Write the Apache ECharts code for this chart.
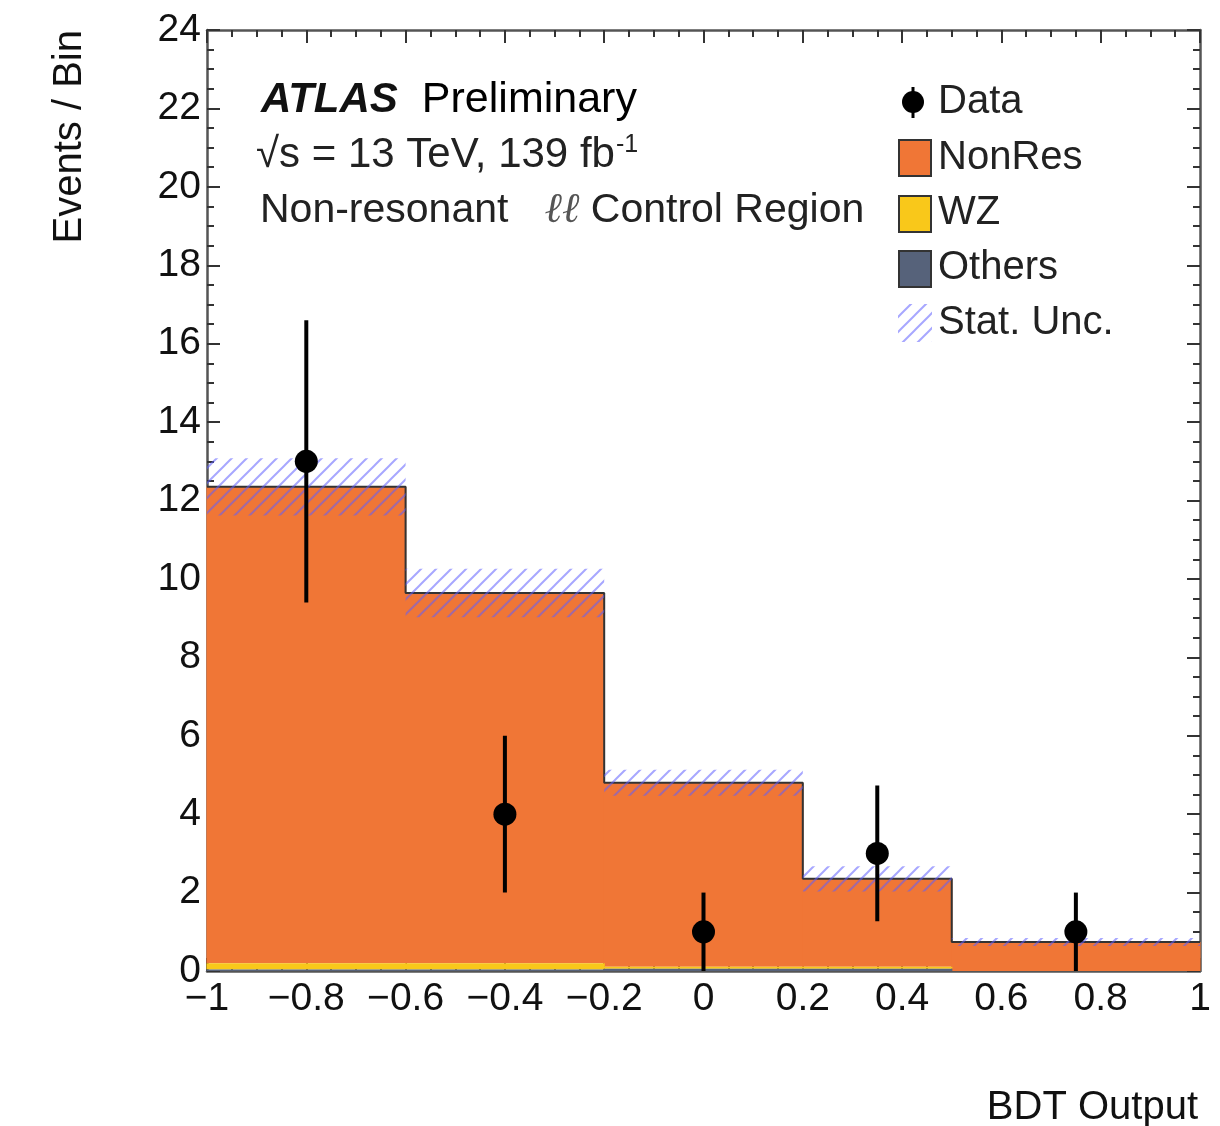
<!DOCTYPE html>
<html>
<head>
<meta charset="utf-8">
<script src="https://cdn.jsdelivr.net/npm/echarts@6/dist/echarts.min.js"></script>
<style>
html,body{margin:0;padding:0;background:#fff;}
#chart{width:1220px;height:1126px;}
</style>
</head>
<body>
<div id="chart"></div>
<script>
// ---- data ----
const binEdges = [-1, -0.6, -0.2, 0.2, 0.5, 1];
const nonRes  = [12.15, 9.44, 4.69, 2.24, 0.74];
const wz      = [0.16, 0.16, 0.05, 0.05, 0.0];
const others  = [0.04, 0.04, 0.06, 0.06, 0.0];
const statUnc = [0.73, 0.62, 0.33, 0.32, 0.10];
const dataX   = [-0.8, -0.4, 0.0, 0.35, 0.75];
const dataY   = [13, 4, 1, 3, 1];
const dataErr = [3.6, 2.0, 1.0, 1.73, 1.0];
const yTicks  = [0, 2, 4, 6, 8, 10, 12, 14, 16, 18, 20, 22, 24];

const FONT = '"Liberation Sans", Arial, Helvetica, sans-serif';
const C_NONRES = '#f07636', C_WZ = '#f9c81a', C_OTH = '#56627a';

function makeHatch() {
  const s = 15;
  const c = document.createElement('canvas');
  c.width = s; c.height = s;
  const g = c.getContext('2d');
  g.strokeStyle = 'rgba(95,95,255,0.55)';
  g.lineWidth = 2;
  g.beginPath();
  g.moveTo(-1, s + 1); g.lineTo(s + 1, -1);
  g.moveTo(-1, 1); g.lineTo(1, -1);
  g.moveTo(s - 1, s + 1); g.lineTo(s + 1, s - 1);
  g.stroke();
  return c;
}
const hatch = makeHatch();

const totals = nonRes.map((v, i) => v + wz[i] + others[i]);
const othData = others.map((v, i) => [binEdges[i], binEdges[i + 1], 0, v]);
const wzData = wz.map((v, i) => [binEdges[i], binEdges[i + 1], others[i], others[i] + v]);
const nrData = nonRes.map((v, i) => [binEdges[i], binEdges[i + 1], others[i] + wz[i], totals[i]]);
const uncData = statUnc.map((v, i) => [binEdges[i], binEdges[i + 1], totals[i] - v, totals[i] + v]);
const outline = [];
totals.forEach((t, i) => { outline.push([binEdges[i], t]); outline.push([binEdges[i + 1], t]); });
const errData = dataX.map((x, i) => [x, dataY[i] - dataErr[i], dataY[i] + dataErr[i]]);
const ptData = dataX.map((x, i) => [x, dataY[i]]);

function rectRender(fill, overlap) {
  return function (params, api) {
    const p0 = api.coord([api.value(0), api.value(3)]);
    const p1 = api.coord([api.value(1), api.value(2)]);
    const ov = overlap ? 0.6 : 0;
    return {type: 'rect', shape: {x: p0[0] - ov, y: p0[1], width: p1[0] - p0[0] + 2 * ov, height: p1[1] - p0[1]},
            style: {fill: fill}};
  };
}

function fmt(v) {
  const r = Math.round(v * 10) / 10;
  if (r === 0) return '0';
  return (r < 0 ? '\u2212' : '') + String(Math.abs(r));
}

const axisLineStyle = {color: '#555', width: 2.5};
function xAx(pos, showLabel) {
  return {
    type: 'value', position: pos, min: -1, max: 1, interval: 0.2,
    axisLine: {show: true, onZero: false, lineStyle: axisLineStyle},
    axisTick: {show: true, inside: true, length: 13, lineStyle: {color: '#333', width: 2}},
    minorTick: {show: true, splitNumber: 4, length: 7, lineStyle: {color: '#333', width: 2}},
    splitLine: {show: false}, minorSplitLine: {show: false},
    axisLabel: {show: showLabel, formatter: fmt, margin: 9, color: '#111', fontSize: 39, fontFamily: FONT}
  };
}
function yAx(pos, showLabel) {
  return {
    type: 'value', position: pos, min: 0, max: 24, interval: 2,
    axisLine: {show: true, onZero: false, lineStyle: axisLineStyle},
    axisTick: {show: true, inside: true, length: 13, lineStyle: {color: '#333', width: 2}},
    minorTick: {show: true, splitNumber: 4, length: 7, lineStyle: {color: '#333', width: 2}},
    splitLine: {show: false}, minorSplitLine: {show: false},
    axisLabel: {show: showLabel, margin: 6, color: '#111', fontSize: 39, fontFamily: FONT,
      formatter: v => yTicks.indexOf(v) >= 0 ? String(v) : ''}
  };
}

const mctx = document.createElement('canvas').getContext('2d');
mctx.font = '42px ' + FONT;
const line2 = '\u221As = 13 TeV, 139 fb';
const line2w = mctx.measureText(line2).width;

const chart = echarts.init(document.getElementById('chart'), null, {renderer: 'canvas'});
chart.setOption({
  animation: false,
  backgroundColor: '#fff',
  grid: {left: 207, right: 20, top: 30, bottom: 155, containLabel: false},
  xAxis: [xAx('bottom', true), xAx('top', false)],
  yAxis: [yAx('left', true), yAx('right', false)],
  series: [
    {type: 'custom', name: 'NonRes', renderItem: rectRender(C_NONRES, true), data: nrData, encode: {x: [0, 1], y: [2, 3]}, z: 2},
    {type: 'custom', name: 'WZ', renderItem: rectRender(C_WZ, true), data: wzData, encode: {x: [0, 1], y: [2, 3]}, z: 2},
    {type: 'custom', name: 'Others', renderItem: rectRender(C_OTH, true), data: othData, encode: {x: [0, 1], y: [2, 3]}, z: 2},
    {type: 'line', name: 'outline', data: outline, symbol: 'none', lineStyle: {color: '#333', width: 2}, z: 3},
    {type: 'custom', name: 'Stat. Unc.', renderItem: rectRender({image: hatch, repeat: 'repeat'}, false), data: uncData,
     encode: {x: [0, 1], y: [2, 3]}, z: 4},
    {type: 'custom', name: 'DataErr', z: 5, data: errData, encode: {x: 0, y: [1, 2]},
     renderItem: function (params, api) {
       const a = api.coord([api.value(0), api.value(1)]);
       const b = api.coord([api.value(0), api.value(2)]);
       return {type: 'line', shape: {x1: a[0], y1: a[1], x2: b[0], y2: b[1]}, style: {stroke: '#000', lineWidth: 4}};
     }},
    {type: 'scatter', name: 'Data', data: ptData, symbol: 'circle', symbolSize: 23,
     itemStyle: {color: '#000', opacity: 1}, z: 6}
  ],
  graphic: [
    {type: 'text', x: 70, y: 30, rotation: Math.PI / 2,
     style: {text: 'Events / Bin', font: '40px ' + FONT, fill: '#111', align: 'right', verticalAlign: 'middle'}},
    {type: 'text', x: 1198, y: 1108,
     style: {text: 'BDT Output', font: '40px ' + FONT, fill: '#111', align: 'right', verticalAlign: 'middle'}},
    {type: 'text', x: 261, y: 100,
     style: {text: '{b|ATLAS}{n|Preliminary}', align: 'left', verticalAlign: 'middle',
       rich: {b: {fontFamily: FONT, fontSize: 42, fontStyle: 'italic', fontWeight: 'bold', fill: '#111'},
              n: {fontFamily: FONT, fontSize: 43, fill: '#000', padding: [0, 0, 0, 24]}}}},
    {type: 'text', x: 256, y: 155,
     style: {text: line2, font: '42px ' + FONT, fill: '#222', align: 'left', verticalAlign: 'middle'}},
    {type: 'text', x: 256 + line2w + 1, y: 145,
     style: {text: '-1', font: '25px ' + FONT, fill: '#222', align: 'left', verticalAlign: 'middle'}},
    {type: 'text', x: 260, y: 211,
     style: {text: '{n|Non-resonant}{i|\u2113\u2113}{n| Control Region}', align: 'left', verticalAlign: 'middle',
       rich: {n: {fontFamily: FONT, fontSize: 41, fill: '#222'},
              i: {fontFamily: '"DejaVu Serif", serif', fontSize: 42, fontStyle: 'italic', fill: '#555',
                  padding: [0, 0, 0, 36]}}}},
    // legend
    {type: 'line', shape: {x1: 913, y1: 87, x2: 913, y2: 118}, style: {stroke: '#000', lineWidth: 3}},
    {type: 'circle', shape: {cx: 913, cy: 102, r: 11}, style: {fill: '#000'}},
    {type: 'text', x: 938, y: 102, style: {text: 'Data', font: '40px ' + FONT, fill: '#222', verticalAlign: 'middle'}},
    {type: 'rect', shape: {x: 899, y: 140, width: 32, height: 36}, style: {fill: C_NONRES, stroke: '#333', lineWidth: 2}},
    {type: 'text', x: 938, y: 158, style: {text: 'NonRes', font: '40px ' + FONT, fill: '#222', verticalAlign: 'middle'}},
    {type: 'rect', shape: {x: 899, y: 196, width: 32, height: 36}, style: {fill: C_WZ, stroke: '#333', lineWidth: 2}},
    {type: 'text', x: 938, y: 213, style: {text: 'WZ', font: '40px ' + FONT, fill: '#222', verticalAlign: 'middle'}},
    {type: 'rect', shape: {x: 899, y: 251, width: 32, height: 36}, style: {fill: C_OTH, stroke: '#333', lineWidth: 2}},
    {type: 'text', x: 938, y: 268, style: {text: 'Others', font: '40px ' + FONT, fill: '#222', verticalAlign: 'middle'}},
    {type: 'rect', shape: {x: 898, y: 304, width: 34, height: 38}, style: {fill: {image: hatch, repeat: 'repeat'}}},
    {type: 'text', x: 938, y: 323, style: {text: 'Stat. Unc.', font: '40px ' + FONT, fill: '#222', verticalAlign: 'middle'}}
  ]
});
</script>
</body>
</html>
